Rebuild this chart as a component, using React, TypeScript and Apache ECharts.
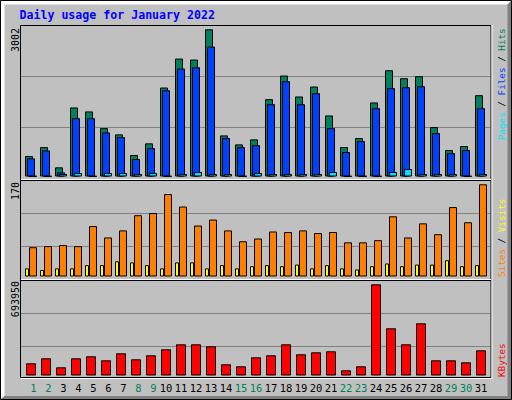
import React, { useEffect, useRef } from 'react';
import * as echarts from 'echarts';

const titleText = 'Daily usage for January 2022';
const days = ['1', '2', '3', '4', '5', '6', '7', '8', '9', '10', '11', '12', '13', '14', '15', '16',
  '17', '18', '19', '20', '21', '22', '23', '24', '25', '26', '27', '28', '29', '30', '31'];
const weekendDays = ['1', '2', '8', '9', '15', '16', '22', '23', '29', '30'];

const hits = [417, 600, 187, 1408, 1327, 987, 859, 438, 676, 1815, 2405, 2385, 3002, 838, 655, 757,
  1577, 2059, 1632, 1835, 1245, 600, 783, 1510, 2167, 2004, 2045, 1007, 539, 621, 1658];
const files = [370, 533, 85, 1190, 1190, 899, 804, 356, 580, 1760, 2202, 2228, 2650, 784, 600, 641,
  1475, 1943, 1475, 1699, 987, 499, 722, 1394, 1801, 1821, 1842, 885, 478, 539, 1394];
const pages = [10, 10, 51, 71, 10, 71, 71, 51, 71, 10, 51, 92, 51, 51, 10, 71,
  51, 51, 51, 51, 92, 10, 10, 10, 92, 153, 51, 51, 51, 10, 51];

const visits = [15, 12, 15, 15, 21, 21, 28, 26, 21, 15, 26, 26, 15, 21, 15, 19,
  21, 19, 22, 15, 21, 15, 13, 19, 24, 19, 22, 22, 30, 19, 21];
const sites = [54, 56, 58, 56, 93, 72, 85, 113, 117, 152, 129, 94, 105, 85, 65, 70,
  83, 82, 85, 80, 82, 63, 63, 67, 111, 72, 98, 78, 128, 100, 170];

const kbytes = [92830, 130880, 62400, 130880, 146090, 115660, 168920, 123270, 153700, 199360,
  237400, 237400, 222180, 85220, 70000, 138480, 153700, 237400, 161310, 176530, 184140,
  39570, 70000, 693950, 359140, 237400, 397190, 115660, 115660, 100440, 191750];

const hitsMax = 3002;
const visitsMax = 170;
const kbytesMax = 693950;

const C_HITS = '#00805c';
const C_FILES = '#0040ff';
const C_PAGES = '#00e0ff';
const C_VISITS = '#ffff00';
const C_SITES = '#ff8000';
const C_KBYTES = '#ff0000';

const MONO = '"DejaVu Sans Mono", monospace';

export default function App() {
  const ref = useRef<HTMLDivElement>(null);

  useEffect(() => {
    const chart = echarts.init(ref.current as HTMLDivElement, null, { renderer: 'svg' });
    const border = { borderColor: '#000', borderWidth: 1 };
    const lbl = (size: number) => `${size}px ${MONO}`;

    const gridLine = (y: number) => ({
      type: 'line',
      shape: { x1: 21, y1: y, x2: 490.5, y2: y },
      style: { stroke: '#808080', lineWidth: 1 },
    });
    const hLine = (y: number, color: string, x1 = 21, x2 = 491) => ({
      type: 'line',
      z: 50,
      shape: { x1, y1: y, x2, y2: y },
      style: { stroke: color, lineWidth: 1 },
    });
    const vText = (x: number, y: number, text: string, align: string, rich?: any, fill = '#000', size = 10) => ({
      type: 'text',
      x,
      y,
      rotation: Math.PI / 2,
      z: 60,
      style: {
        text,
        fill,
        font: lbl(size),
        align,
        textAlign: align,
        verticalAlign: 'middle',
        textVerticalAlign: 'middle',
        rich,
      },
    });
    const rt = (fill: string) => ({ fill, font: lbl(9.3) });

    const option: any = {
      animation: false,
      backgroundColor: '#c0c0c0',
      grid: [
        { left: 23.5, top: 29.3, width: 465, height: 147.2 },
        { left: 23.5, top: 184.3, width: 465, height: 92.2 },
        { left: 23.5, top: 284.3, width: 465, height: 91.2 },
      ],
      xAxis: [0, 1, 2].map((i) => ({
        type: 'category',
        gridIndex: i,
        data: days,
        show: i === 2,
        axisLine: { show: false },
        axisTick: { show: false },
        splitLine: { show: false },
        axisLabel: {
          show: i === 2,
          interval: 0,
          margin: 7,
          formatter: (v: string) => {
            const wk = weekendDays.includes(v);
            const key = (wk ? 'g' : 'k') + (v.length === 1 ? 's' : '');
            return `{${key}|${v}}`;
          },
          rich: {
            g: { color: C_HITS, fontFamily: MONO, fontSize: 10.5 },
            gs: { color: C_HITS, fontFamily: MONO, fontSize: 10.5, padding: [0, 0, 0, 5] },
            k: { color: '#000', fontFamily: MONO, fontSize: 10.5 },
            ks: { color: '#000', fontFamily: MONO, fontSize: 10.5, padding: [0, 0, 0, 5] },
          },
        },
      })),
      yAxis: [
        { type: 'value', gridIndex: 0, min: 0, max: hitsMax, show: false },
        { type: 'value', gridIndex: 1, min: 0, max: visitsMax, show: false },
        { type: 'value', gridIndex: 2, min: 0, max: kbytesMax, show: false },
      ],
      series: [
        { name: 'Hits', type: 'bar', xAxisIndex: 0, yAxisIndex: 0, data: hits, barWidth: 8, barGap: '-75%',
          itemStyle: { color: C_HITS, ...border }, silent: true },
        { name: 'Files', type: 'bar', xAxisIndex: 0, yAxisIndex: 0, data: files, barWidth: 8, barGap: '-75%',
          itemStyle: { color: C_FILES, ...border }, silent: true },
        { name: 'Pages', type: 'bar', xAxisIndex: 0, yAxisIndex: 0, data: pages, barWidth: 8, barGap: '-75%',
          itemStyle: { color: C_PAGES, ...border }, silent: true },
        { name: 'Visits', type: 'bar', xAxisIndex: 1, yAxisIndex: 1, data: visits, barWidth: 4, barGap: 0,
          itemStyle: { color: C_VISITS, ...border }, silent: true },
        { name: 'Sites', type: 'bar', xAxisIndex: 1, yAxisIndex: 1, data: sites, barWidth: 8, barGap: 0,
          itemStyle: { color: C_SITES, ...border }, silent: true },
        { name: 'KBytes', type: 'bar', xAxisIndex: 2, yAxisIndex: 2, data: kbytes, barWidth: 10,
          itemStyle: { color: C_KBYTES, ...border }, silent: true },
      ],
      graphic: [
        // outer bevel
        {
          type: 'polygon',
          shape: { points: [[1, 1], [511, 1], [507.5, 4.5], [4.5, 4.5], [4.5, 396], [1, 399]] },
          style: { fill: '#ffffff' },
        },
        {
          type: 'polygon',
          shape: { points: [[511, 1], [511, 399], [1, 399], [4.5, 396], [507.5, 396], [507.5, 4.5]] },
          style: { fill: '#808080' },
        },
        {
          type: 'rect',
          shape: { x: 0.5, y: 0.5, width: 511, height: 399 },
          style: { fill: 'none', stroke: '#000', lineWidth: 1 },
        },
        // grid lines
        gridLine(76.5),
        gridLine(127.5),
        gridLine(213.5),
        gridLine(246.5),
        gridLine(313.5),
        gridLine(346.5),
        // panel frames
        {
          type: 'rect',
          z: 50,
          shape: { x: 20.5, y: 25.5, width: 470.5, height: 352 },
          style: { fill: 'none', stroke: '#000', lineWidth: 1 },
        },
        hLine(179.5, '#ffffff'),
        hLine(180.5, '#000', 20.5, 491),
        hLine(279.5, '#ffffff'),
        hLine(280.5, '#000', 20.5, 491),
        hLine(378.5, '#ffffff', 21, 492.5),
        {
          type: 'line',
          z: 50,
          shape: { x1: 492, y1: 25, x2: 492, y2: 379 },
          style: { stroke: '#ffffff', lineWidth: 1 },
        },
        // title
        {
          type: 'text',
          x: 19.5,
          y: 14.6,
          z: 60,
          style: {
            text: titleText,
            fill: '#0000ff',
            font: `bold 11.6px ${MONO}`,
            align: 'left',
            textAlign: 'left',
            verticalAlign: 'middle',
            textVerticalAlign: 'middle',
          },
        },
        // max labels
        vText(15, 28, String(hitsMax), 'right'),
        vText(15, 182, String(visitsMax), 'right'),
        vText(15, 281, String(kbytesMax), 'right'),
        // right legends
        vText(501, 28.3, '{p|Pages}{s| / }{f|Files}{s| / }{h|Hits}', 'right',
          { p: rt(C_PAGES), s: rt('#000'), f: rt(C_FILES), h: rt(C_HITS) }, '#000', 9.3),
        vText(501, 277, '{a|Sites}{s| / }{b|Visits}', 'left',
          { a: rt(C_SITES), s: rt('#000'), b: rt(C_VISITS) }, '#000', 9.3),
        vText(501, 377, '{k|KBytes}', 'left', { k: rt(C_KBYTES) }, C_KBYTES, 9.3),
      ],
    };

    chart.setOption(option);
    return () => chart.dispose();
  }, []);

  return (
    <div
      ref={ref}
      style={{ position: 'fixed', left: 0, top: 0, width: 512, height: 400 }}
    />
  );
}
